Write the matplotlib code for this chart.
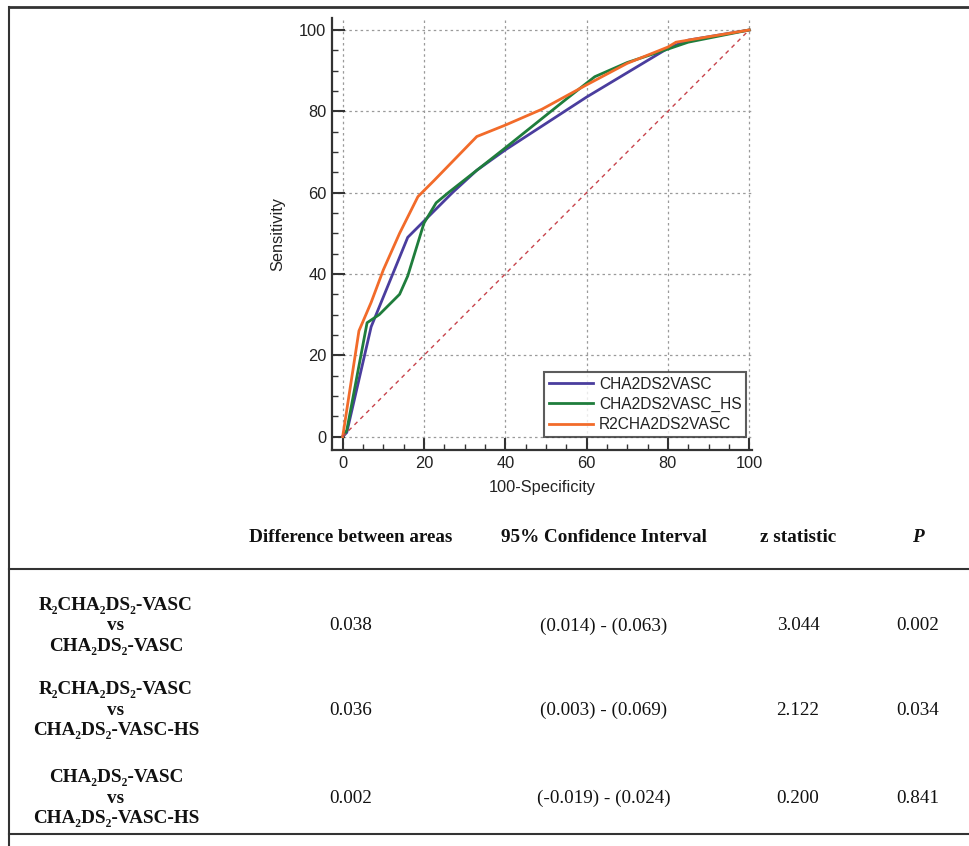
import matplotlib.pyplot as plt
import matplotlib.ticker as ticker
from matplotlib.lines import Line2D

#-------------------------------------------------------------------------------
# ROC curves
fpr_cha = [0, 1, 7, 16, 23, 27, 33, 40, 60, 80, 85, 100]
tpr_cha = [0, 1, 27, 49, 56, 60, 65.5, 70.5, 83.5, 95.5, 97.5, 100]

fpr_hs = [0, 1, 6, 9, 14, 16, 20, 23, 26, 33, 40, 50, 55, 62, 70, 80, 85, 100]
tpr_hs = [0, 1.5, 28, 30, 35, 39.5, 52.5, 57.5, 60, 65.5, 71, 79, 83, 88.5, 92, 95.3, 97, 100]

fpr_r2 = [0, 4, 7, 10, 14, 18.5, 22.5, 33, 40, 49, 60, 70, 80, 82, 100]
tpr_r2 = [0, 26, 33, 41, 50, 59, 63, 73.8, 76.6, 80.5, 86.5, 91.8, 95.8, 97, 100]

series_names = ['CHA2DS2VASC', 'CHA2DS2VASC_HS', 'R2CHA2DS2VASC']
series_colors = ['#4a3d9e', '#1f7d3c', '#f26b2a']

# comparison table
col_headers = ['Difference between areas', '95% Confidence Interval', 'z statistic', 'P']
row_labels = [['R\u2082CHA\u2082DS\u2082-VASC', 'vs', 'CHA\u2082DS\u2082-VASC'],
              ['R\u2082CHA\u2082DS\u2082-VASC', 'vs', 'CHA\u2082DS\u2082-VASC-HS'],
              ['CHA\u2082DS\u2082-VASC', 'vs', 'CHA\u2082DS\u2082-VASC-HS']]
diff_areas = ['0.038', '0.036', '0.002']
conf_int = ['(0.014) - (0.063)', '(0.003) - (0.069)', '(-0.019) - (0.024)']
z_stat = ['3.044', '2.122', '0.200']
p_vals = ['0.002', '0.034', '0.841']

#-------------------------------------------------------------------------------
W, H = 970, 846
fig = plt.figure(figsize=(W / 100, H / 100), dpi=100)
fig.patch.set_facecolor('white')

def fx(px):
    return px / W

def fy(py):
    return 1 - py / H

sans = ['Liberation Sans', 'DejaVu Sans']
serif = ['Liberation Serif', 'DejaVu Serif']

ax = fig.add_axes([fx(332), fy(450), fx(752) - fx(332), fy(18) - fy(450)])
ax.plot(fpr_cha, tpr_cha, color=series_colors[0], lw=2, label=series_names[0])
ax.plot(fpr_hs, tpr_hs, color=series_colors[1], lw=2, label=series_names[1])
ax.plot(fpr_r2, tpr_r2, color=series_colors[2], lw=2, label=series_names[2])
ax.plot([0, 100], [0, 100], color='#c8444c', lw=1, ls=(0, (3, 3)))

ax.set_xlim(-2.63, 100.7)
ax.set_ylim(-3.3, 102.95)
ax.spines['top'].set_visible(False)
ax.spines['right'].set_visible(False)
for s in ['left', 'bottom']:
    ax.spines[s].set_color('#333333')
    ax.spines[s].set_linewidth(1.6)

ax.xaxis.set_major_locator(ticker.MultipleLocator(20))
ax.yaxis.set_major_locator(ticker.MultipleLocator(20))
ax.xaxis.set_minor_locator(ticker.MultipleLocator(5))
ax.yaxis.set_minor_locator(ticker.MultipleLocator(5))
ax.tick_params(which='major', direction='in', length=9, width=1.5, color='#333333',
               labelsize=11.8, labelcolor='#222222', pad=4)
ax.tick_params(which='minor', direction='in', length=4, width=1, color='#333333')
for lab in ax.get_xticklabels() + ax.get_yticklabels():
    lab.set_family(sans)

ax.grid(which='major', color='#9a9a9a', ls=(0, (2, 2.5)), lw=0.9)
ax.set_axisbelow(True)

ax.set_xlabel('100-Specificity', fontsize=11.8, family=sans, color='#222222', labelpad=7)
ax.set_ylabel('Sensitivity', fontsize=11.8, family=sans, color='#222222', labelpad=10)

leg = ax.legend(loc='lower right', bbox_to_anchor=(0.997, 0.02),
                prop={'family': sans, 'size': 11.2}, frameon=True, fancybox=False,
                handlelength=2.8, handletextpad=0.4, borderpad=0.3, labelspacing=0.32,
                borderaxespad=0.3)
leg.get_frame().set_edgecolor('#333333')
leg.get_frame().set_linewidth(1.5)
for t in leg.get_texts():
    t.set_color('#222222')

#-------------------------------------------------------------------------------
# frame lines
fig.add_artist(Line2D([fx(9), fx(970)], [fy(7.5), fy(7.5)], color='#333333', lw=2))
fig.add_artist(Line2D([fx(9.5), fx(9.5)], [fy(7), fy(846)], color='#333333', lw=1.5))
fig.add_artist(Line2D([fx(9), fx(970)], [fy(569), fy(569)], color='#333333', lw=1.5))
fig.add_artist(Line2D([fx(9), fx(970)], [fy(833.5), fy(833.5)], color='#333333', lw=1.5))

# table
col_x = [351, 604, 798, 918]
hdr_y = 537
fs = 13.8
for i, h in enumerate(col_headers):
    fig.text(fx(col_x[i]), fy(hdr_y), h, ha='center', va='center', fontsize=fs,
             family=serif, weight='bold', style='italic' if h == 'P' else 'normal',
             color='#111111')

row_y = [626, 710, 798]
line_gap = 20.5
for r in range(3):
    for k, lbl in enumerate(row_labels[r]):
        fig.text(fx(116), fy(row_y[r] + (k - 1) * line_gap), lbl, ha='center', va='center',
                 fontsize=fs, family=serif, weight='bold', color='#111111')
    vals = [diff_areas[r], conf_int[r], z_stat[r], p_vals[r]]
    for i, v in enumerate(vals):
        fig.text(fx(col_x[i]), fy(row_y[r]), v, ha='center', va='center', fontsize=fs,
                 family=serif, color='#111111')

fig.savefig('out.png', dpi=100)
